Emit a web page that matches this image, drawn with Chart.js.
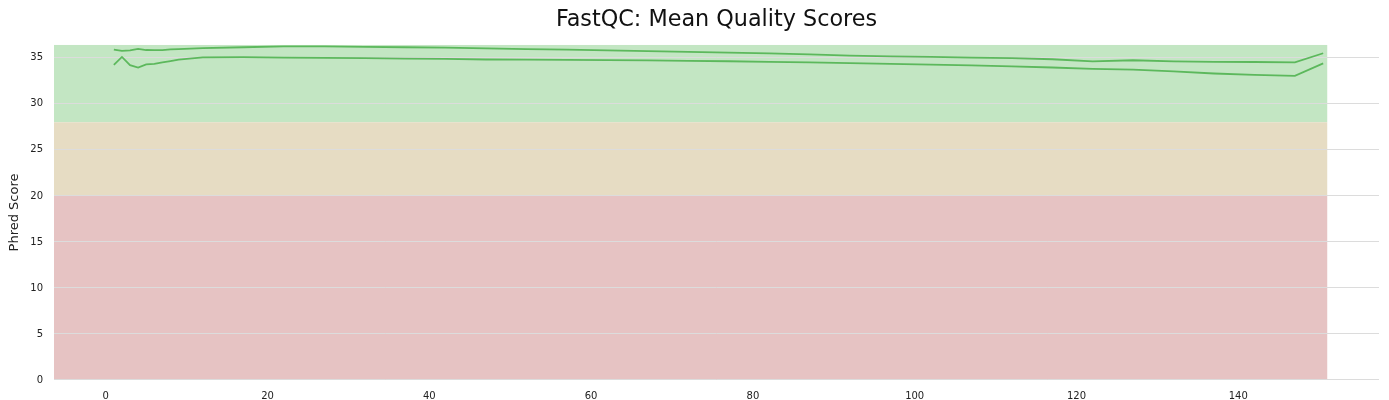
<!DOCTYPE html>
<html>
<head>
<meta charset="utf-8">
<script src="https://cdn.jsdelivr.net/npm/chart.js@4"></script>
<style>
  html, body { margin: 0; padding: 0; background: #fff; }
  #wrap { width: 1389px; height: 400px; }
</style>
</head>
<body>
<div id="wrap"><canvas id="chart"></canvas></div>
<script>
// Read positions (bin midpoints)
const positions = [1, 2, 3, 4, 5, 6, 7, 8, 9, 12, 17, 22, 27, 32, 37, 42, 47, 52, 57, 62, 67, 72, 77, 82, 87, 92, 97, 102, 107, 112, 117, 122, 127, 132, 137, 142, 147, 150.5];

// Mean quality per sample
const sampleR1 = [35.9, 35.76, 35.82, 35.98, 35.85, 35.83, 35.83, 35.92, 35.95, 36.05, 36.15, 36.25, 36.25, 36.2, 36.15, 36.1, 36.02, 35.95, 35.9, 35.82, 35.72, 35.65, 35.57, 35.48, 35.38, 35.25, 35.15, 35.1, 35.03, 34.96, 34.85, 34.62, 34.74, 34.62, 34.57, 34.55, 34.5, 35.5];
const sampleR2 = [34.24, 35.1, 34.2, 33.95, 34.3, 34.35, 34.5, 34.65, 34.8, 35.05, 35.08, 35.03, 35.0, 34.96, 34.92, 34.88, 34.82, 34.8, 34.77, 34.75, 34.72, 34.68, 34.63, 34.57, 34.5, 34.43, 34.35, 34.26, 34.18, 34.07, 33.95, 33.8, 33.72, 33.52, 33.3, 33.15, 33.05, 34.4];

// Quality bands [from, to]
const bandGood = [28, 36.4];
const bandOk = [20, 28];
const bandPoor = [0, 20];
const bandEnd = 151;

const yTicks = [0, 5, 10, 15, 20, 25, 30, 35];
const xTicks = [0, 20, 40, 60, 80, 100, 120, 140];

const toPoints = ys => positions.map((x, i) => ({ x, y: ys[i] }));

const bandsPlugin = {
  id: 'bands',
  beforeDraw(chart) {
    const { ctx, chartArea, scales } = chart;
    const x0 = chartArea.left;
    const x1 = scales.x.getPixelForValue(bandEnd);
    const bands = [
      [bandGood, '#c3e6c3'],
      [bandOk, '#e6dcc3'],
      [bandPoor, '#e6c3c3'],
    ];
    ctx.save();
    bands.forEach(([r, color]) => {
      const yTop = scales.y.getPixelForValue(r[1]);
      const yBot = scales.y.getPixelForValue(r[0]);
      ctx.fillStyle = color;
      ctx.fillRect(x0, yTop, x1 - x0, yBot - yTop);
    });
    ctx.restore();
  },
};

Chart.defaults.font.family = '"DejaVu Sans", sans-serif';
Chart.defaults.color = '#222';

new Chart(document.getElementById('chart'), {
  type: 'line',
  data: {
    datasets: [
      {
        label: 'R1',
        data: toPoints(sampleR1),
        borderColor: '#5cb85c',
        borderWidth: 1.8,
        pointRadius: 0,
        tension: 0,
      },
      {
        label: 'R2',
        data: toPoints(sampleR2),
        borderColor: '#5cb85c',
        borderWidth: 1.8,
        pointRadius: 0,
        tension: 0,
      },
    ],
  },
  options: {
    responsive: true,
    maintainAspectRatio: false,
    animation: false,
    layout: { padding: { left: 0, right: 10, top: 0, bottom: 0 } },
    plugins: {
      legend: { display: false },
      tooltip: { enabled: false },
      title: {
        display: true,
        fullSize: false,
        text: 'FastQC: Mean Quality Scores',
        color: '#111',
        font: { size: 22.3, weight: 'normal', lineHeight: 1.2 },
        padding: { top: 7, bottom: 11.2 },
      },
    },
    scales: {
      x: {
        type: 'linear',
        min: -6.4,
        max: 157.4,
        border: { display: false },
        grid: { display: false, drawTicks: false },
        afterBuildTicks: s => { s.ticks = xTicks.map(v => ({ value: v })); },
        afterFit: s => { s.height = 20; },
        ticks: { font: { size: 10 }, padding: 10, maxRotation: 0, color: '#222' },
      },
      y: {
        min: 0,
        max: 36.4,
        border: { display: false },
        grid: { color: '#dcdcdc', lineWidth: 1, drawTicks: false },
        afterBuildTicks: s => { s.ticks = yTicks.map(v => ({ value: v })); },
        afterFit: s => { s.width = 54; },
        title: { display: true, text: 'Phred Score', font: { size: 13 }, color: '#222', padding: { top: 7, bottom: 0 } },
        ticks: { font: { size: 10 }, padding: 11, color: '#222' },
      },
    },
  },
  plugins: [bandsPlugin],
});
</script>
</body>
</html>
